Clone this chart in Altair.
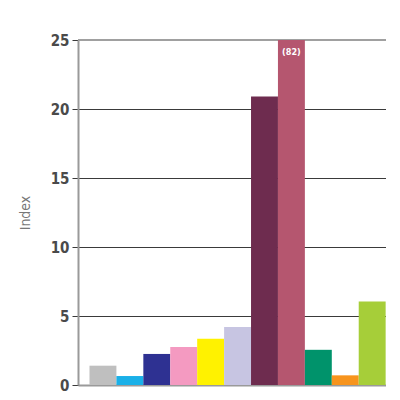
import altair as alt
import pandas as pd

categories = ["A", "B", "C", "D", "E", "F", "G", "H", "I", "J", "K"]
values = [1.4, 0.65, 2.25, 2.75, 3.35, 4.2, 20.9, 82, 2.55, 0.7, 6.05]
colors = ["#bfbfbf", "#1ab0e8", "#2e3192", "#f49ac1", "#fff200", "#c7c5e2",
          "#6e2c4f", "#b5566f", "#00936b", "#f7941d", "#a6ce39"]
clipped_label = "(82)"
y_ticks = [0, 5, 10, 15, 20, 25]

df = pd.DataFrame({"cat": categories, "value": values, "color": colors})
df["shown"] = df["value"].clip(upper=25)

x_enc = alt.X("cat:N", sort=categories,
              scale=alt.Scale(paddingInner=0, paddingOuter=0.22, align=0.97),
              axis=alt.Axis(labels=False, ticks=False, title=None,
                            domainColor="#9a9a9a", domainWidth=2))

bars = alt.Chart(df).mark_bar(clip=True).encode(
    x=x_enc,
    y=alt.Y("shown:Q", scale=alt.Scale(domain=[0, 25], nice=False),
            axis=alt.Axis(values=y_ticks, title="Index", grid=True,
                          gridColor="#3a3a3a", gridWidth=1,
                          domainColor="#9a9a9a", domainWidth=2,
                          tickColor="#3a3a3a", tickSize=6,
                          labelFont="DejaVu Sans Condensed", labelFontSize=15,
                          labelFontWeight="bold", labelColor="#4a4a4a",
                          labelPadding=3,
                          titleFont="DejaVu Sans Condensed", titleFontSize=14,
                          titleFontWeight="normal", titleColor="#777777",
                          titlePadding=18)),
    color=alt.Color("color:N", scale=None),
)

top_rule = alt.Chart(df).mark_rule(color="#a0a0a0", strokeWidth=2).encode(
    y=alt.datum(25)
)

label_df = df[df["value"] > 25].assign(lbl=clipped_label)
label = alt.Chart(label_df).mark_text(
    color="white", fontSize=9, font="DejaVu Sans Condensed",
    fontWeight="bold", baseline="top", dy=8
).encode(
    x=alt.X("cat:N", sort=categories),
    y=alt.datum(25),
    text="lbl:N",
)

chart = alt.layer(top_rule, bars, label).properties(
    width=308, height=345,
    autosize=alt.AutoSizeParams(type="none"),
    padding={"left": 70, "top": 32, "right": 0, "bottom": 12},
).configure_view(stroke=None)

chart.save("out.html", embed_options={"renderer": "svg", "actions": False})
